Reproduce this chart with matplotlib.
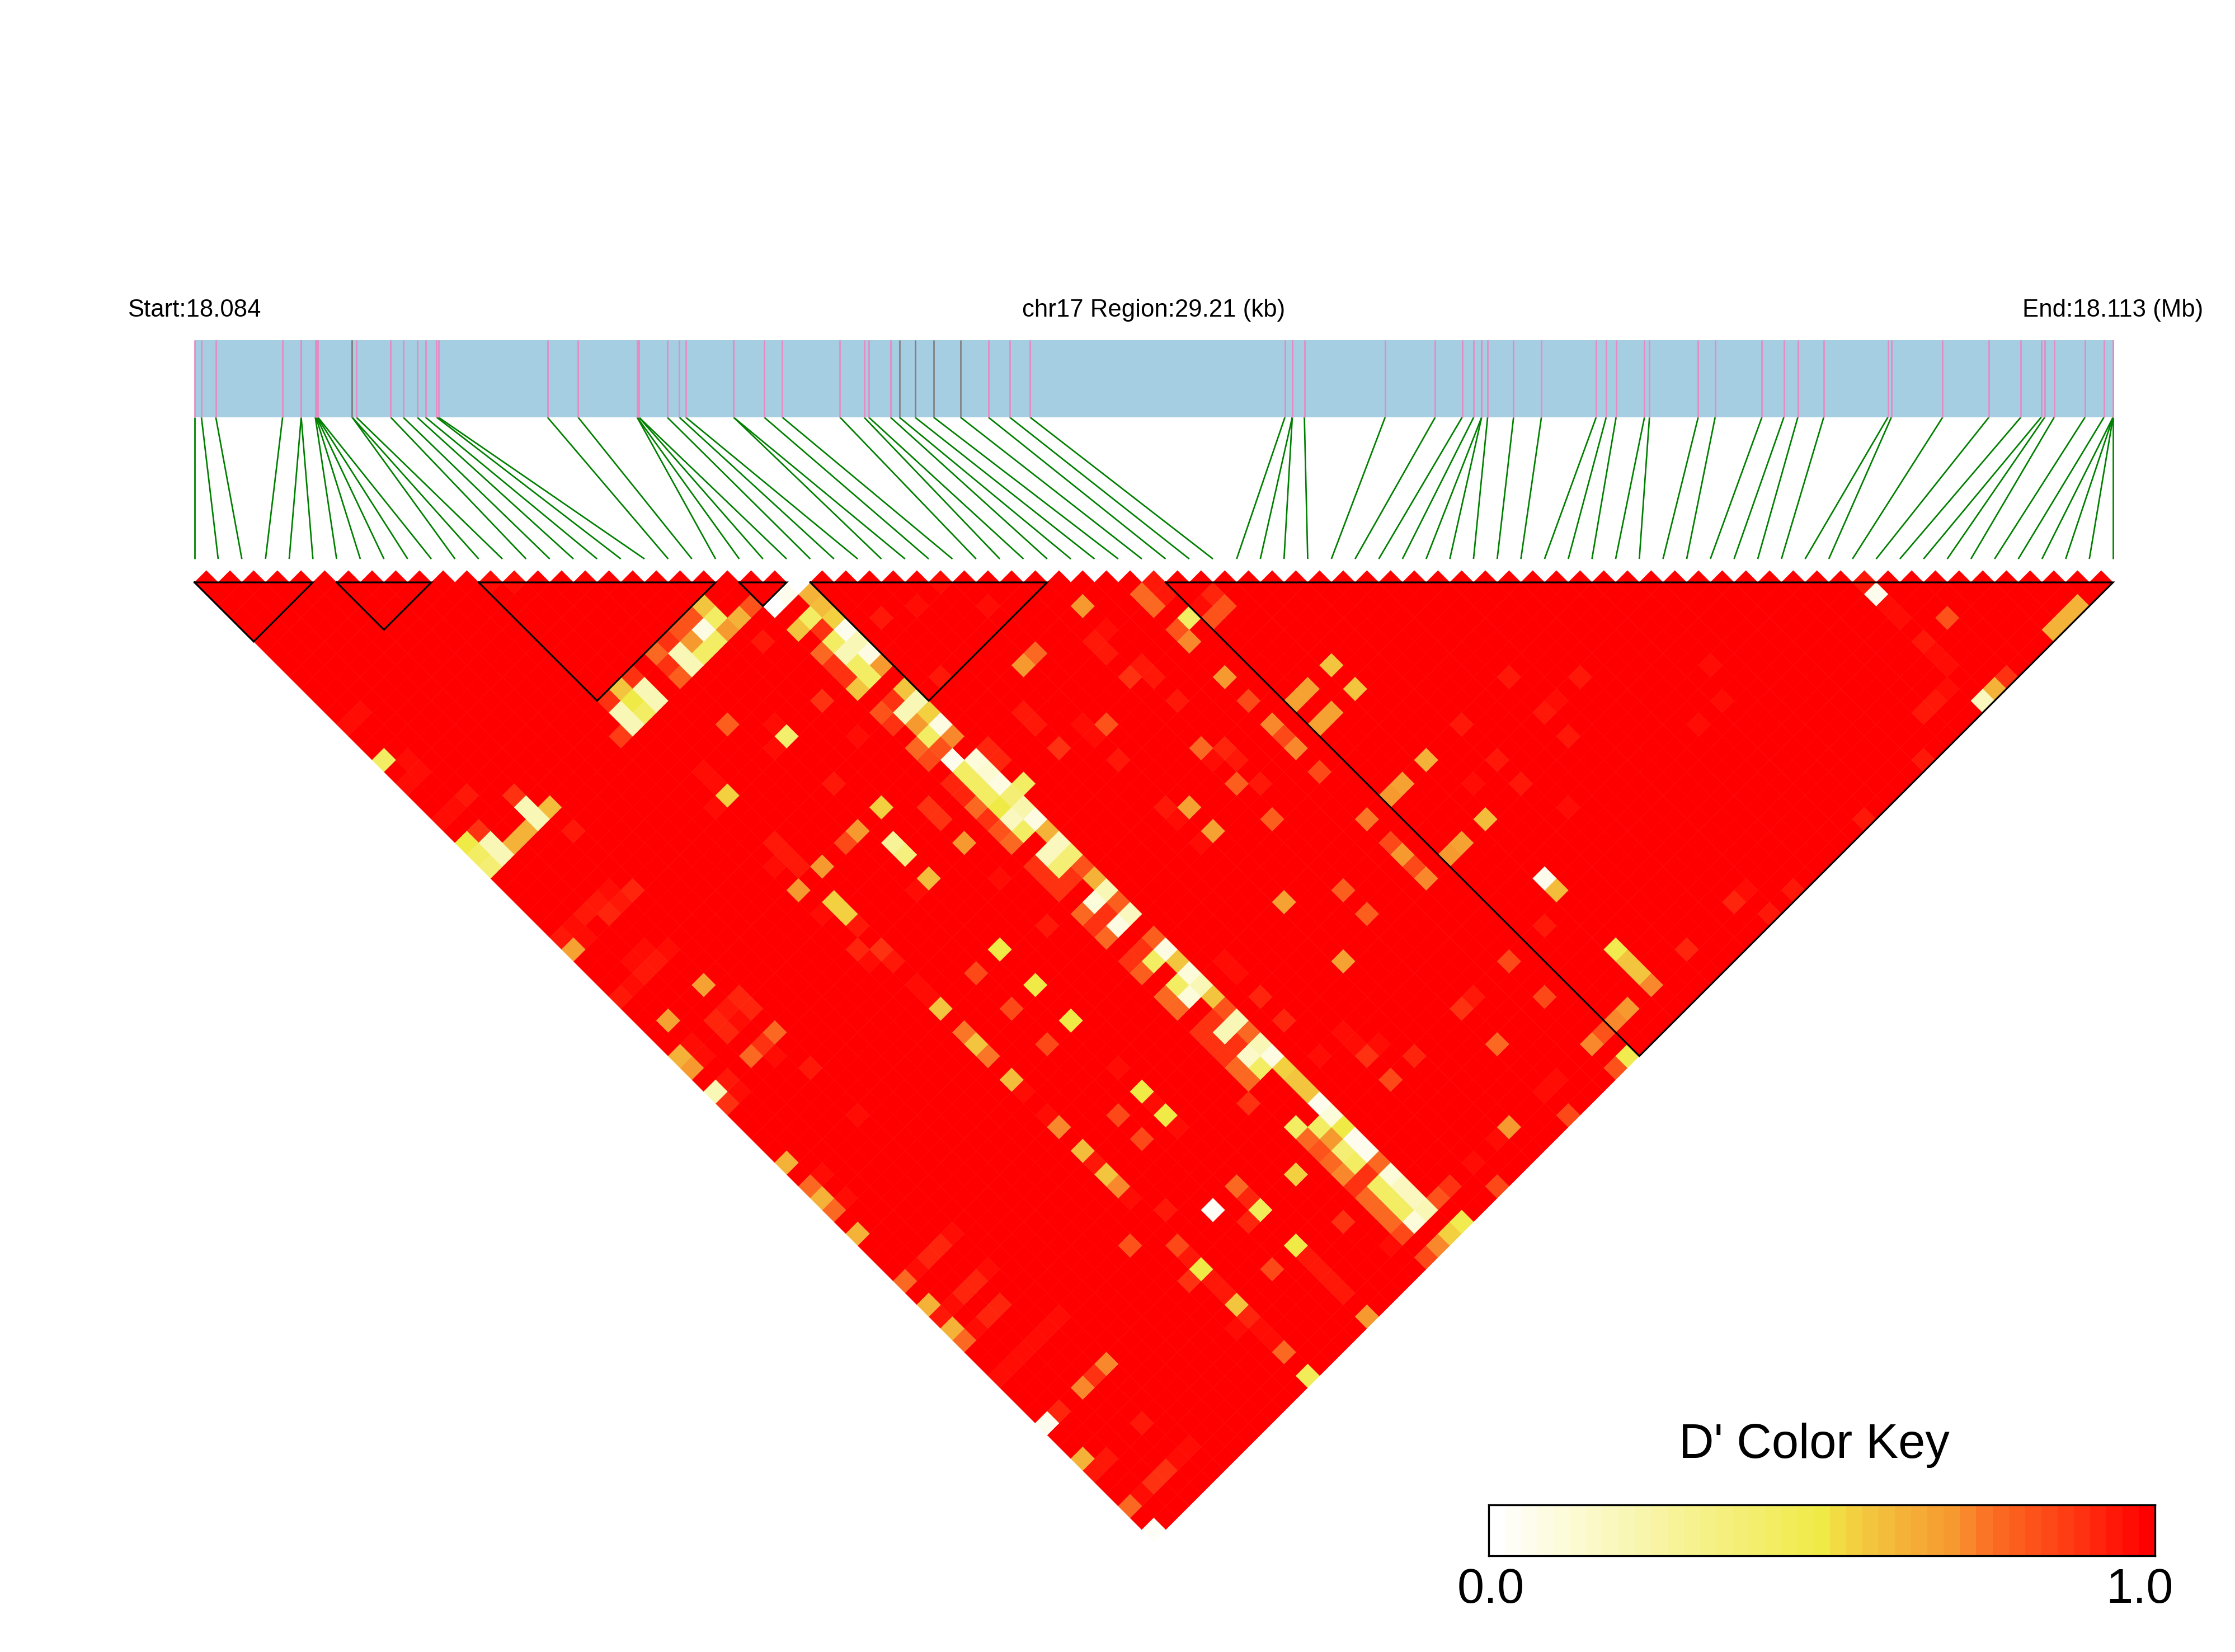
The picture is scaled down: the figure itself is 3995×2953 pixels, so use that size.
import numpy as np
import matplotlib
matplotlib.use('Agg')
import matplotlib.pyplot as plt
from matplotlib.collections import PolyCollection, LineCollection
from matplotlib.colors import LinearSegmentedColormap

plt.rcParams['font.family'] = ['Liberation Sans', 'DejaVu Sans']

# SNP positions in kb from region start
snp_kb = [0.0, 0.106, 0.325, 1.342, 1.625, 1.625, 1.84, 1.85, 1.86, 1.87, 1.88,
          2.401, 2.401, 2.465, 2.988, 3.178, 3.391, 3.518, 3.687, 3.715, 5.375,
          5.841, 6.739, 6.739, 6.767, 6.767, 7.198, 7.382, 7.48, 8.208, 8.208,
          8.674, 8.95, 9.828, 10.195, 10.266, 10.597, 10.732, 10.971, 11.254,
          11.663, 12.088, 12.412, 12.723, 16.602, 16.714, 16.714, 16.898, 18.128,
          18.89, 19.3, 19.476, 19.597, 19.597, 19.688, 20.083, 20.507, 21.341,
          21.493, 21.644, 22.076, 22.152, 22.894, 23.152, 23.864, 24.198, 24.411,
          24.805, 25.782, 25.835, 26.616, 27.32, 27.806, 28.116, 28.17, 28.314,
          28.783, 29.071, 29.21, 29.21, 29.21, 29.21]
grey_snps = [11, 12, 37, 38, 39, 40]
region_kb = 29.21

blocks = [(0, 5), (6, 10), (12, 22), (23, 25), (26, 36), (41, 81)]

# D' values below 1.0 as (i, j, value), everything else is 1.0
cells_topleft = [
    (12, 13, .97), (13, 14, .97), (20, 23, .57), (20, 24, .42), (19, 23, .82), (18, 23, .82),
    (19, 24, .08), (20, 25, .7), (21, 25, .63), (22, 25, .82), (19, 25, .42), (18, 25, .42),
    (18, 24, .7), (17, 23, .88), (17, 24, .2), (17, 25, .2), (16, 23, .78), (16, 24, .88),
    (16, 25, .8), (14, 23, .88), (14, 24, .2), (14, 25, .2), (13, 23, .57), (13, 24, .49),
    (13, 25, .42), (12, 23, .88), (12, 24, .2), (12, 25, .2), (11, 25, .86), (13, 17, .98),
    (13, 18, .98), (13, 19, .98), (12, 18, .98), (13, 21, .98), (12, 21, .98), (4, 13, .98),
    (1, 13, .97), (0, 13, .97), (4, 18, .98), (0, 16, .42), (1, 17, .97), (1, 18, .97),
    (0, 18, .97), (4, 21, .98), (3, 21, .98), (2, 21, .94), (1, 21, .97), (0, 21, .97),
    (4, 23, .88), (4, 24, .2), (4, 25, .2), (5, 25, .6), (3, 25, .63), (2, 25, .63),
    (5, 27, .95), (5, 29, .98), (1, 23, .88), (0, 23, .49), (1, 24, .2), (1, 25, .2),
    (0, 24, .42), (0, 25, .38), (3, 29, .98), (2, 29, .98), (4, 31, .96), (5, 32, .92),
    (3, 31, .93), (2, 31, .93), (4, 32, .95), (3, 32, .92), (1, 31, .97), (1, 32, .97),
    (0, 31, .93), (0, 32, .68), (5, 35, .98), (4, 36, .97), (3, 35, .97), (2, 35, .97),
    (3, 36, .93), (2, 36, .93), (1, 36, .97), (0, 36, .93), (4, 39, .68), (1, 39, .68),
    (5, 41, .92), (5, 42, .92), (4, 41, .94), (3, 41, .92), (4, 42, .97), (21, 27, .95),
    (16, 29, .8), (18, 29, .98), (18, 31, .97), (17, 32, .97), (13, 29, .98), (13, 30, .96),
    (13, 31, .96), (12, 31, .98), (12, 32, .96), (13, 32, .54), (13, 36, .95), (12, 36, .98),
]

# the long pale bands hanging off SNPs 23, 24 and 25
cells_band = [
    (25, 26, .0), (24, 26, .05), (23, 26, .0), (25, 27, .62), (25, 28, .6), (24, 28, .42),
    (25, 29, .56), (24, 29, .9), (23, 28, .58), (25, 30, .07), (24, 30, .42), (25, 31, .2),
    (24, 31, .2), (23, 30, .78), (25, 32, .08), (23, 31, .88), (24, 32, .42), (25, 33, .7),
    (23, 32, .9), (24, 33, .42), (23, 33, .58), (25, 35, .57), (24, 35, .9), (23, 35, .82),
    (23, 36, .88), (25, 36, .2), (24, 36, .2), (25, 37, .56), (24, 37, .7), (25, 38, .08),
    (24, 38, .42), (25, 39, .72), (23, 38, .78), (24, 39, .82), (23, 39, .85), (24, 40, .06),
    (25, 41, .1), (26, 41, .92), (26, 42, .92), (24, 41, .42), (25, 42, .13), (24, 42, .42),
    (25, 43, .08), (26, 44, .42), (23, 41, .92), (23, 42, .92), (24, 43, .42), (25, 44, .37),
    (23, 43, .78), (24, 44, .49), (25, 45, .22), (23, 44, .88), (24, 45, .18), (25, 46, .08),
    (23, 45, .82), (24, 46, .42), (25, 47, .62), (23, 46, .78), (25, 48, .18), (24, 48, .18),
    (25, 49, .38), (24, 49, .38), (25, 50, .82), (23, 48, .88), (23, 49, .88), (23, 50, .88),
    (24, 50, .88), (25, 51, .62), (25, 52, .2), (24, 52, .1), (25, 53, .8), (23, 52, .78),
    (24, 53, .88), (25, 54, .18), (23, 53, .88), (24, 54, .08), (23, 54, .78), (25, 56, .8),
    (24, 56, .88), (23, 56, .88), (23, 57, .8), (25, 57, .08), (24, 57, .42), (25, 58, .57),
    (25, 59, .1), (24, 59, .42), (25, 60, .2), (24, 60, .12), (25, 61, .58), (23, 59, .78),
    (23, 60, .78), (25, 62, .82), (24, 62, .88), (23, 62, .88), (23, 63, .88), (23, 64, .88),
    (24, 64, .88), (25, 63, .2), (24, 63, .2), (25, 64, .78), (25, 65, .2), (24, 65, .15),
    (25, 66, .08), (24, 66, .42), (23, 65, .78), (23, 66, .78), (25, 67, .54), (25, 68, .57),
    (25, 69, .58), (25, 70, .06), (25, 71, .12), (25, 72, .49), (24, 71, .42), (23, 70, .42),
    (24, 72, .7), (23, 71, .78), (25, 73, .06), (23, 72, .82), (24, 73, .38), (25, 74, .06),
    (23, 73, .78), (24, 74, .42), (25, 75, .78), (23, 74, .72), (24, 75, .88), (25, 76, .12),
    (23, 75, .88), (24, 76, .42), (25, 77, .18), (24, 77, .42), (25, 78, .18), (23, 76, .78),
    (23, 77, .78), (24, 78, .42), (25, 79, .2), (24, 79, .1), (26, 79, .82), (27, 79, .88),
    (23, 78, .78), (23, 79, .85), (22, 79, .96), (21, 79, .98), (21, 76, .9), (23, 81, .85),
    (24, 81, .72), (25, 81, .56), (26, 81, .47),
]

cells_middle = [
    (31, 32, .97), (27, 29, .98), (29, 32, .96), (27, 31, .93), (32, 35, .96), (32, 36, .98),
    (29, 35, .98), (27, 35, .98), (27, 36, .94), (36, 39, .7), (39, 41, .78), (39, 42, .78),
    (40, 41, .93), (40, 42, .93), (40, 44, .42), (39, 44, .82), (39, 45, .72), (41, 44, .97),
    (42, 44, .92), (41, 45, .82), (42, 45, .82), (36, 41, .96), (35, 41, .95), (35, 42, .95),
    (32, 39, .78), (31, 39, .7), (36, 44, .94), (36, 45, .94), (35, 44, .9), (31, 41, .98),
    (39, 48, .7), (21, 32, .88), (36, 47, .93), (35, 47, .98), (29, 41, .95), (29, 42, .95),
    (31, 44, .96), (31, 45, .96), (32, 45, .82), (21, 35, .97), (18, 32, .4), (29, 44, .9),
    (35, 50, .78), (36, 51, .92), (35, 51, .97), (31, 47, .94), (18, 36, .95), (29, 47, .98),
    (19, 39, .54), (21, 41, .88), (21, 42, .88), (31, 51, .95), (32, 52, .68), (31, 52, .97),
    (17, 39, .7), (16, 39, .85), (18, 41, .28), (18, 42, .36), (17, 41, .98), (21, 44, .7),
    (29, 51, .98), (32, 54, .67), (31, 54, .97), (13, 37, .93), (13, 38, .95), (12, 37, .97),
    (14, 39, .7), (18, 44, .6), (17, 44, .96), (17, 45, .98), (21, 47, .96), (12, 39, .7),
    (13, 41, .56), (13, 42, .56), (12, 41, .97), (12, 42, .98), (13, 43, .95), (21, 51, .95),
    (27, 60, .96), (12, 44, .92), (13, 45, .9), (12, 45, .97), (13, 46, .95), (18, 50, .51),
    (16, 50, .85), (13, 48, .97), (13, 49, .97), (17, 52, .98), (18, 53, .5), (13, 50, .58),
    (16, 53, .85), (17, 54, .98), (18, 56, .5), (16, 56, .85),
]

cells_right = [
    (44, 52, .58), (42, 52, .66), (41, 52, .66), (44, 54, .58), (42, 54, .66), (41, 54, .66),
    (39, 50, .85), (39, 52, .72), (39, 53, .85), (39, 54, .72), (36, 52, .93), (39, 56, .85),
    (35, 53, .8), (36, 54, .95), (35, 56, .8), (39, 60, .74), (39, 62, .85), (39, 63, .7),
    (39, 64, .85), (39, 65, .72), (44, 60, .61), (42, 60, .66), (41, 60, .7), (42, 65, .66),
    (41, 65, .7), (44, 65, .6), (36, 60, .98), (35, 62, .8), (35, 64, .8), (36, 65, .98),
    (32, 60, .67), (31, 60, .98), (29, 61, .98), (32, 65, .66), (31, 65, .98), (27, 61, .97),
    (36, 68, .98), (35, 68, .98), (38, 70, .98), (39, 72, .85), (39, 75, .85), (36, 72, .93),
    (35, 72, .88), (27, 63, .92), (31, 68, .98), (27, 65, .92), (51, 60, .93), (54, 63, .95),
    (52, 63, .96), (51, 63, .93), (47, 60, .93), (51, 65, .94), (54, 68, .98), (52, 68, .98),
    (51, 68, .98), (47, 63, .94), (45, 63, .96), (47, 65, .94), (48, 68, .96), (47, 68, .98),
    (45, 68, .98), (46, 70, .98), (44, 70, .05), (44, 71, .59), (43, 70, .98), (42, 72, .95),
    (44, 76, .47), (44, 77, .57), (44, 78, .57), (44, 79, .72), (42, 79, .7), (41, 79, .72),
    (70, 71, .93), (70, 72, .05), (70, 73, .96), (70, 74, .96), (65, 68, .98), (66, 70, .98),
    (63, 68, .98), (72, 76, .82), (70, 76, .95), (70, 77, .97), (70, 78, .97), (78, 81, .62),
    (77, 81, .62), (76, 81, .62), (60, 68, .97), (59, 70, .97), (57, 70, .97), (69, 79, .97),
    (68, 79, .95), (67, 79, .95), (72, 81, .9), (71, 81, .62), (70, 81, .18), (65, 79, .98),
    (65, 81, .94), (61, 79, .98), (60, 79, .98), (58, 79, .98), (60, 81, .94), (54, 79, .98),
    (52, 79, .96), (54, 81, .94), (51, 79, .92), (52, 81, .94), (47, 79, .92), (40, 79, .82),
    (39, 79, .72), (40, 81, .47), (39, 81, .82), (35, 75, .78), (36, 79, .97), (35, 79, .97),
    (35, 81, .85), (32, 79, .7), (31, 79, .97), (29, 79, .96), (29, 81, .85),
]

cells_lower = [
    (29, 68, .97), (29, 69, .97), (29, 70, .9), (30, 70, .96), (27, 68, .97), (31, 72, .92),
    (29, 72, .85), (22, 67, .9), (21, 68, .98), (21, 72, .55), (18, 68, .98), (17, 68, .98),
    (18, 70, .78), (18, 71, .92), (18, 72, .45), (17, 72, .92), (16, 70, .03), (18, 75, .5),
    (18, 76, .93), (18, 77, .93), (18, 78, .93), (18, 79, .95), (17, 79, .98), (16, 75, .85),
    (18, 81, .7), (13, 70, .85), (13, 71, .95), (13, 72, .5), (12, 72, .88), (13, 73, .95),
    (13, 74, .95), (13, 75, .58), (13, 76, .92), (12, 76, .97), (13, 77, .96), (13, 78, .96),
    (13, 79, .78), (12, 79, .98), (13, 81, .45), (18, 62, .5), (18, 63, .96), (18, 64, .5),
    (18, 65, .96), (17, 63, .98), (16, 62, .85), (18, 60, .96), (17, 60, .98), (16, 64, .85),
    (17, 65, .98), (13, 59, .96), (13, 60, .72), (12, 60, .98), (13, 56, .6), (13, 57, .96),
    (13, 62, .6), (13, 63, .95), (13, 64, .58), (13, 65, .72), (12, 63, .98), (13, 66, .96),
    (12, 65, .98), (14, 68, .95), (13, 68, .98), (12, 68, .98), (11, 68, .82), (4, 65, .98),
    (5, 68, .96), (4, 68, .96), (3, 68, .96), (2, 68, .96), (1, 68, .96), (0, 68, .96),
    (5, 72, .72), (4, 72, .9), (3, 72, .72), (1, 72, .92), (0, 72, .07), (4, 76, .95),
    (0, 81, .03), (0, 75, .62), (1, 76, .95), (0, 76, .95), (5, 79, .97), (4, 79, .97),
    (3, 79, .9), (2, 79, .9), (1, 79, .97), (0, 79, .78), (3, 42, .92), (1, 41, .97),
    (1, 42, .97), (0, 41, .63), (0, 42, .7), (5, 44, .78), (4, 44, .9), (3, 44, .78),
    (4, 45, .97), (5, 47, .95), (1, 44, .94), (1, 45, .97), (0, 44, .2), (0, 45, .88),
    (13, 52, .75), (13, 53, .58), (13, 54, .75), (12, 52, .98), (12, 54, .98), (5, 51, .96),
    (4, 52, .98), (4, 54, .98), (0, 50, .62), (1, 52, .97), (0, 52, .78), (0, 53, .62),
    (1, 54, .97), (0, 54, .78), (0, 56, .62), (4, 60, .97), (3, 60, .92), (2, 60, .92),
    (1, 60, .97), (0, 60, .78), (4, 63, .97), (3, 63, .92), (2, 63, .92), (1, 63, .97),
    (0, 62, .62), (0, 63, .95), (0, 64, .62), (0, 65, .78), (1, 65, .97), (3, 65, .92),
    (2, 65, .92),
]

key_colors = [(0.0, '#ffffff'), (0.5, '#f0ea46'), (0.57, '#f3c63e'), (0.7, '#f69a30'),
              (0.76, '#fb6f24'), (0.875, '#fe3d14'), (1.0, '#ff0000')]
ld_cmap = LinearSegmentedColormap.from_list('ld_key', key_colors, N=41)

W, H = 3995, 2953
DPI = 300
n_snps = len(snp_kb)
x0_px, x1_px, y0_px = 347.6, 3777.0, 1041.0
unit_px = (x1_px - x0_px) / (n_snps - 1)

fig = plt.figure(figsize=(W / DPI, H / DPI), dpi=DPI, facecolor='white')

# main axes: x in SNP rank, y in the same unit going down from the first diagonal
ax = fig.add_axes([0, 0, 1, 1])
ax.set_xlim(-x0_px / unit_px, (W - x0_px) / unit_px)
ax.set_ylim((H - y0_px) / unit_px, -y0_px / unit_px)
ax.axis('off')

values = {}
for i in range(n_snps):
    for j in range(i + 1, n_snps):
        values[(i, j)] = 1.0
for i, j, v in cells_topleft + cells_band + cells_middle + cells_right + cells_lower:
    values[(i, j)] = v

polys = []
cell_vals = []
for (i, j), v in sorted(values.items(), key=lambda kv: -kv[1]):
    cx = (i + j) / 2.0
    cy = (j - i - 1) / 2.0
    polys.append([(cx - .5, cy), (cx, cy - .5), (cx + .5, cy), (cx, cy + .5)])
    cell_vals.append(v)
heat = PolyCollection(polys, cmap=ld_cmap, edgecolors='face', linewidths=0.12)
heat.set_array(np.array(cell_vals))
heat.set_clim(0, 1)
ax.add_collection(heat)

# haplotype blocks
for a, b in blocks:
    ax.plot([a, b, (a + b) / 2.0, a], [0, 0, (b - a) / 2.0, 0], color='black', lw=0.75,
            solid_joinstyle='miter', zorder=5)

# gene map bar and the lines down to the heatmap
bar_top, bar_bot, link_bot = -10.23, -6.97, -0.99
snp_x = np.array(snp_kb) / region_kb * (n_snps - 1)
ax.fill_between([0, n_snps - 1], bar_top, bar_bot, color='#a6cee3', lw=0)
for k, x in enumerate(snp_x):
    col = 'grey' if k in grey_snps else '#e78ac3'
    ax.plot([x, x], [bar_top, bar_bot], color=col, lw=0.65, solid_capstyle='butt', zorder=3)
links = [[(x, bar_bot), (k, link_bot)] for k, x in enumerate(snp_x)]
ax.add_collection(LineCollection(links, colors='green', linewidths=0.65))

label_y = -11.5
ax.text(0, label_y, 'Start:18.084', ha='center', va='center', fontsize=10.5)
ax.text((n_snps - 1) / 2.0, label_y, 'chr17 Region:29.21 (kb)', ha='center', va='center', fontsize=10.5)
ax.text(n_snps - 1, label_y, 'End:18.113 (Mb)', ha='center', va='center', fontsize=10.5)

# colour key
kx0, kx1, ky0, ky1 = 2661, 3852, 2690, 2781
key_ax = fig.add_axes([kx0 / W, 1 - ky1 / H, (kx1 - kx0) / W, (ky1 - ky0) / H])
key_edges = np.linspace(0, 1, 42)
key_ax.pcolormesh(key_edges, [0, 1], ((key_edges[:-1] + key_edges[1:]) / 2).reshape(1, -1),
                  cmap=ld_cmap, vmin=0, vmax=1)
key_ax.set_xticks([])
key_ax.set_yticks([])
for sp in key_ax.spines.values():
    sp.set_linewidth(0.8)

fig.text(3243 / W, 1 - 2584 / H, "D' Color Key", ha='center', va='center', fontsize=20.8)
fig.text(2665 / W, 1 - 2843 / H, '0.0', ha='center', va='center', fontsize=20.8)
fig.text(3825 / W, 1 - 2843 / H, '1.0', ha='center', va='center', fontsize=20.8)

fig.savefig('out.png', dpi=DPI)
